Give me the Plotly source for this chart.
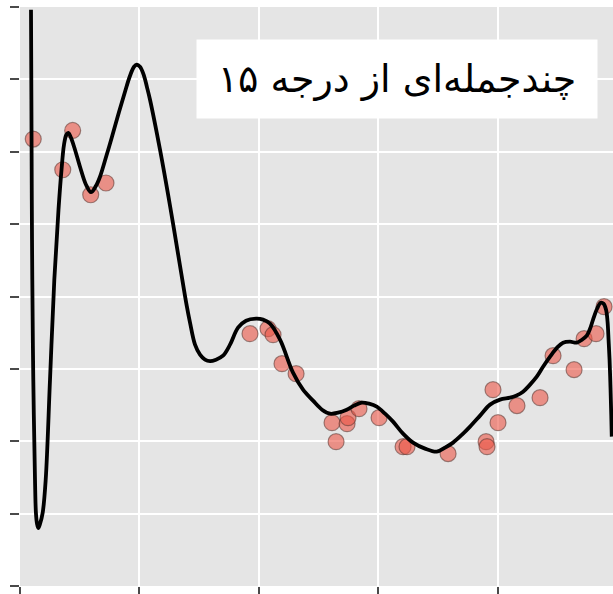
import plotly.graph_objects as go

# Observed samples
obs_x = [0.111, 0.358, 0.441, 0.592, 0.720, 1.926, 2.077, 2.119, 2.194, 2.312,
         2.613, 2.647, 2.739, 2.747, 2.839, 3.007, 3.208, 3.241, 3.585, 3.903,
         3.911, 3.961, 4.003, 4.162, 4.355, 4.464, 4.640, 4.724, 4.824, 4.891]
obs_y = [6.175, 5.751, 6.294, 5.406, 5.568, 3.486, 3.555, 3.472, 3.072, 2.934,
         2.257, 1.994, 2.243, 2.326, 2.450, 2.326, 1.925, 1.925, 1.829, 1.994,
         1.925, 2.713, 2.257, 2.492, 2.602, 3.182, 2.989, 3.417, 3.486, 3.859]

# Degree-15 polynomial fit, sampled along x
fit_x = [0.0921, 0.0955, 0.0988, 0.1030, 0.1114, 0.1256, 0.1332, 0.1424, 0.1533, 0.1658,
         0.1901, 0.2152, 0.2513, 0.2873, 0.3224, 0.3476, 0.3685, 0.3878, 0.4045, 0.4271,
         0.4606, 0.5025, 0.5528, 0.5946, 0.6365, 0.6700, 0.7261, 0.7680, 0.8291, 0.8794,
         0.9213, 0.9548, 0.9774, 1.0050, 1.0385, 1.0637, 1.0888, 1.1725, 1.2563, 1.3400,
         1.3961, 1.4238, 1.4657, 1.5075, 1.5494, 1.5913, 1.6415, 1.7002, 1.7588, 1.8258,
         1.8928, 1.9765, 2.0352, 2.0938, 2.1776, 2.2864, 2.3702, 2.4539, 2.5293, 2.5963,
         2.6633, 2.7362, 2.7973, 2.8618, 2.9229, 2.9874, 3.0570, 3.1240, 3.2077, 3.2915,
         3.3920, 3.4899, 3.5595, 3.6265, 3.7018, 3.7688, 3.8526, 3.9363, 4.0201, 4.1038,
         4.1541, 4.2127, 4.2714, 4.3275, 4.3802, 4.4389, 4.4975, 4.5477, 4.6064, 4.6625,
         4.7069, 4.7462, 4.7739, 4.7990, 4.8325, 4.8635, 4.8869, 4.9079, 4.9204, 4.9288,
         4.9372, 4.9456, 4.9514, 4.9556]
fit_y = [7.961, 6.718, 5.337, 4.232, 2.851, 1.470, 1.014, 0.862, 0.800, 0.848,
         1.014, 1.470, 2.851, 4.232, 5.199, 5.751, 6.097, 6.235, 6.262, 6.193,
         6.028, 5.793, 5.544, 5.441, 5.530, 5.655, 5.959, 6.193, 6.549, 6.829,
         7.050, 7.174, 7.202, 7.174, 7.050, 6.890, 6.718, 6.028, 5.254, 4.425,
         3.873, 3.638, 3.334, 3.196, 3.127, 3.106, 3.127, 3.182, 3.334, 3.569,
         3.666, 3.693, 3.680, 3.624, 3.403, 2.948, 2.713, 2.561, 2.436, 2.381,
         2.395, 2.436, 2.492, 2.533, 2.519, 2.478, 2.381, 2.271, 2.105, 1.981,
         1.898, 1.856, 1.912, 1.981, 2.091, 2.202, 2.354, 2.506, 2.575, 2.602,
         2.630, 2.685, 2.782, 2.892, 3.030, 3.169, 3.293, 3.362, 3.376, 3.362,
         3.403, 3.459, 3.555, 3.680, 3.831, 3.914, 3.901, 3.818, 3.652, 3.403,
         3.127, 2.713, 2.367, 2.064]

x_ticks = [0, 1, 2, 3, 4]
y_ticks = [0, 1, 2, 3, 4, 5, 6, 7, 8]
title_text = "چندجمله‌ای از درجه ۱۵"

fig = go.Figure()
fig.add_trace(go.Scatter(
    x=obs_x, y=obs_y, mode="markers",
    marker=dict(size=16, color="rgba(235,85,70,0.6)",
                line=dict(color="rgba(90,55,50,0.55)", width=1.2)),
    showlegend=False, hoverinfo="skip"))
fig.add_trace(go.Scatter(
    x=fit_x, y=fit_y, mode="lines",
    line=dict(color="black", width=3.8, shape="spline", smoothing=1.0),
    showlegend=False, hoverinfo="skip"))

fig.add_annotation(
    x=3.157, y=7.008, xref="x", yref="y", text=title_text,
    showarrow=False, xanchor="center", yanchor="middle",
    width=400, height=78, borderpad=0, bgcolor="white",
    font=dict(family="DejaVu Sans", size=38, color="black"))

axis_common = dict(showgrid=True, gridcolor="white", gridwidth=1.7,
                   zeroline=False, showline=False, showticklabels=False,
                   ticks="outside", tickcolor="#4a4a4a", tickwidth=2)
fig.update_xaxes(range=[0, 4.966], tickvals=x_ticks, ticklen=8, **axis_common)
fig.update_yaxes(range=[0, 8], tickvals=y_ticks, ticklen=9, **axis_common)

fig.update_layout(
    width=613, height=594,
    margin=dict(l=20, r=0, t=7, b=8, pad=0),
    plot_bgcolor="#E5E5E5", paper_bgcolor="white")

fig.write_html("out.html")
